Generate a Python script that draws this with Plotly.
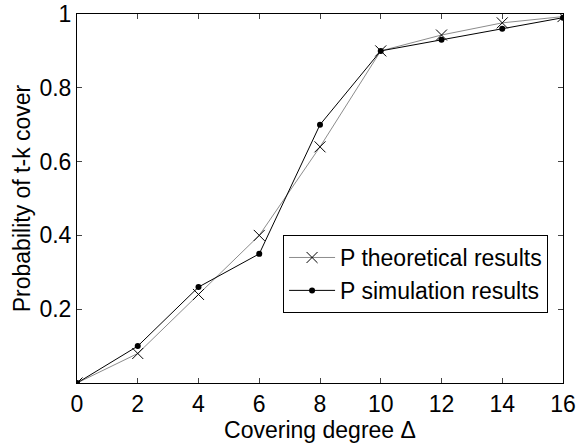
import plotly.graph_objects as go

x_vals = [0, 2, 4, 6, 8, 10, 12, 14, 16]
p_theoretical = [0.0, 0.08, 0.24, 0.40, 0.64, 0.90, 0.943, 0.976, 0.993]
p_simulation = [0.0, 0.10, 0.26, 0.35, 0.70, 0.90, 0.93, 0.96, 0.99]
x_ticks = [0, 2, 4, 6, 8, 10, 12, 14, 16]
y_ticks = [0.2, 0.4, 0.6, 0.8, 1]
y_tick_text = ["0.2", "0.4", "0.6", "0.8", "1"]

font_family = "Liberation Sans, Arial, Helvetica, sans-serif"
FS = 23

fig = go.Figure()
fig.add_trace(go.Scatter(
    x=x_vals, y=p_theoretical, mode="lines+markers",
    name="P theoretical results",
    line=dict(color="#8c8c8c", width=1),
    marker=dict(symbol="x-thin", size=11, color="black",
                line=dict(color="black", width=1)),
))
fig.add_trace(go.Scatter(
    x=x_vals, y=p_simulation, mode="lines+markers",
    name="P simulation results",
    line=dict(color="black", width=1),
    marker=dict(symbol="circle", size=6, color="black"),
))

fig.update_layout(
    width=579, height=445,
    margin=dict(l=77, r=16, t=14, b=62, autoexpand=False),
    paper_bgcolor="white", plot_bgcolor="white",
    font=dict(family=font_family, size=FS, color="black"),
    showlegend=True,
    legend=dict(
        x=0.424, y=0.401, xanchor="left", yanchor="top",
        bordercolor="black", borderwidth=1, bgcolor="white",
        font=dict(size=FS), tracegroupgap=0, itemwidth=46,
    ),
    xaxis=dict(
        range=[0, 16], tickvals=x_ticks, ticks="inside", ticklen=5,
        showline=True, linecolor="black", linewidth=1, mirror="ticks",
        showgrid=False, zeroline=False, automargin=False,
        title=dict(text="Covering degree Δ", standoff=0, font=dict(size=FS)),
        tickfont=dict(size=FS),
    ),
    yaxis=dict(
        range=[0, 1], tickvals=y_ticks, ticktext=y_tick_text,
        ticks="inside", ticklen=5,
        showline=True, linecolor="black", linewidth=1, mirror="ticks",
        showgrid=False, zeroline=False, automargin=False,
        title=dict(text="Probability of t-k cover", standoff=2, font=dict(size=FS)),
        tickfont=dict(size=FS),
    ),
)

fig.write_html(
    "out.html",
    config={"displayModeBar": False},
    post_script="document.body.style.margin='0';document.body.style.overflow='hidden';",
)
